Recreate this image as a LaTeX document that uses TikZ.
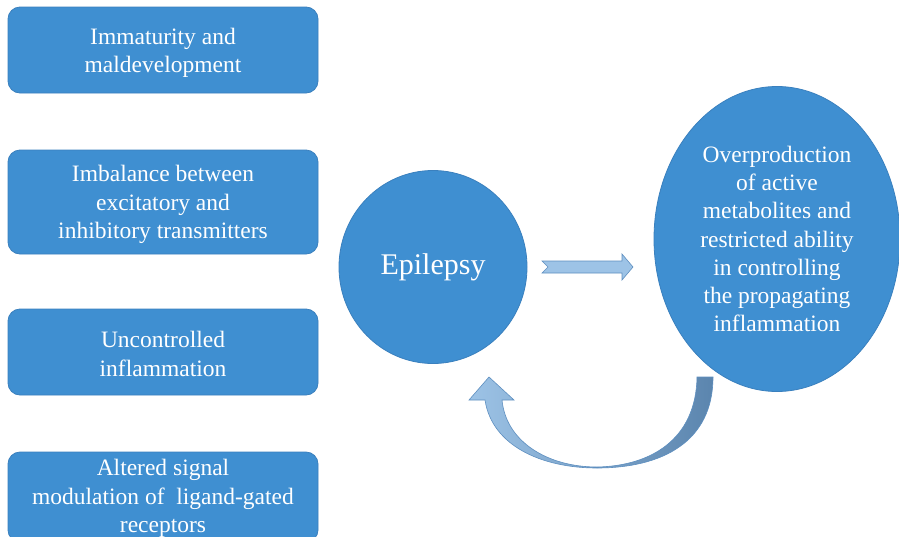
\documentclass[tikz,border=0pt]{standalone}
\usepackage{fontspec}
\setmainfont{Liberation Serif}
\newfontfamily\tnr{Liberation Serif}
\usetikzlibrary{shapes.geometric}
\definecolor{boxblue}{HTML}{3F8FD1}
\definecolor{boxedge}{HTML}{3A80BE}
\definecolor{arrlight}{HTML}{9DC3E6}
\definecolor{arredge}{HTML}{5E8FC0}
\definecolor{arrdark}{HTML}{5B85AE}
\tikzset{
  causebox/.style={draw=boxedge, line width=0.8pt, fill=boxblue, rounded corners=12pt,
    minimum width=310pt},
  boxtext/.style={text=white, align=center, inner sep=0pt,
    font=\tnr\fontsize{23.5}{28.5}\selectfont},
  bigblob/.style={ellipse, draw=boxedge, line width=0.8pt, fill=boxblue, text=white, align=center, inner sep=0pt},
  flatarrow/.style={draw=arredge, line width=0.6pt, fill=arrlight},
}
\begin{document}
\begin{tikzpicture}[x=1pt,y=-1pt]
\useasboundingbox (0,0) rectangle (899,536);
\clip (0,0) rectangle (899,536);
\fill[white] (0,0) rectangle (899,536);

\node[causebox, minimum height=86pt] (b1) at (163,50) {};
\node[boxtext] (t1) at ([yshift=-3pt]b1.center) {Immaturity and\\maldevelopment};
\node[causebox, minimum height=104pt] (b2) at (163,202) {};
\node[boxtext] (t2) at ([yshift=-2.5pt]b2.center) {Imbalance between\\excitatory and\\inhibitory transmitters};
\node[causebox, minimum height=86pt] (b3) at (163,352) {};
\node[boxtext] (t3) at ([yshift=-2pt]b3.center) {Uncontrolled\\inflammation};
\node[causebox, minimum height=90pt] (b4) at (163,497) {};
\node[boxtext] (t4) at ([yshift=-1.5pt]b4.center) {Altered signal\\modulation of \ ligand-gated\\receptors};

\node[bigblob, minimum width=188pt, minimum height=193pt, font=\tnr\fontsize{30}{34}\selectfont] (epi) at (433,267) {Epilepsy};
\node[bigblob, minimum width=246pt, minimum height=305pt, font=\tnr\fontsize{23.5}{28.3}\selectfont] (over) at (777,239) {Overproduction\\of active\\metabolites and\\restricted ability\\in controlling\\the propagating\\inflammation};

% straight notched arrow
\coordinate (sa) at (541,267);
\draw[flatarrow] (sa) ++(1,-6) -- (622,261) -- (622,254) -- (633,267) -- (622,280) -- (622,273) -- (542,273) -- (548,267) -- cycle;

% curved feedback arrow
\coordinate (ca) at (697,377);
\draw[draw=arredge, line width=0.6pt, left color=arrlight, right color=arrdark]
  (ca) .. controls (696,440) and (650,466) .. (597,467)
  .. controls (548,467) and (506,442) .. (502,400)
  -- (514,400) -- (489,377) -- (469,400) -- (485,400)
  .. controls (492,446) and (542,468) .. (597,468)
  .. controls (662,468) and (713,442) .. (713,377) -- cycle;
\end{tikzpicture}
\end{document}
